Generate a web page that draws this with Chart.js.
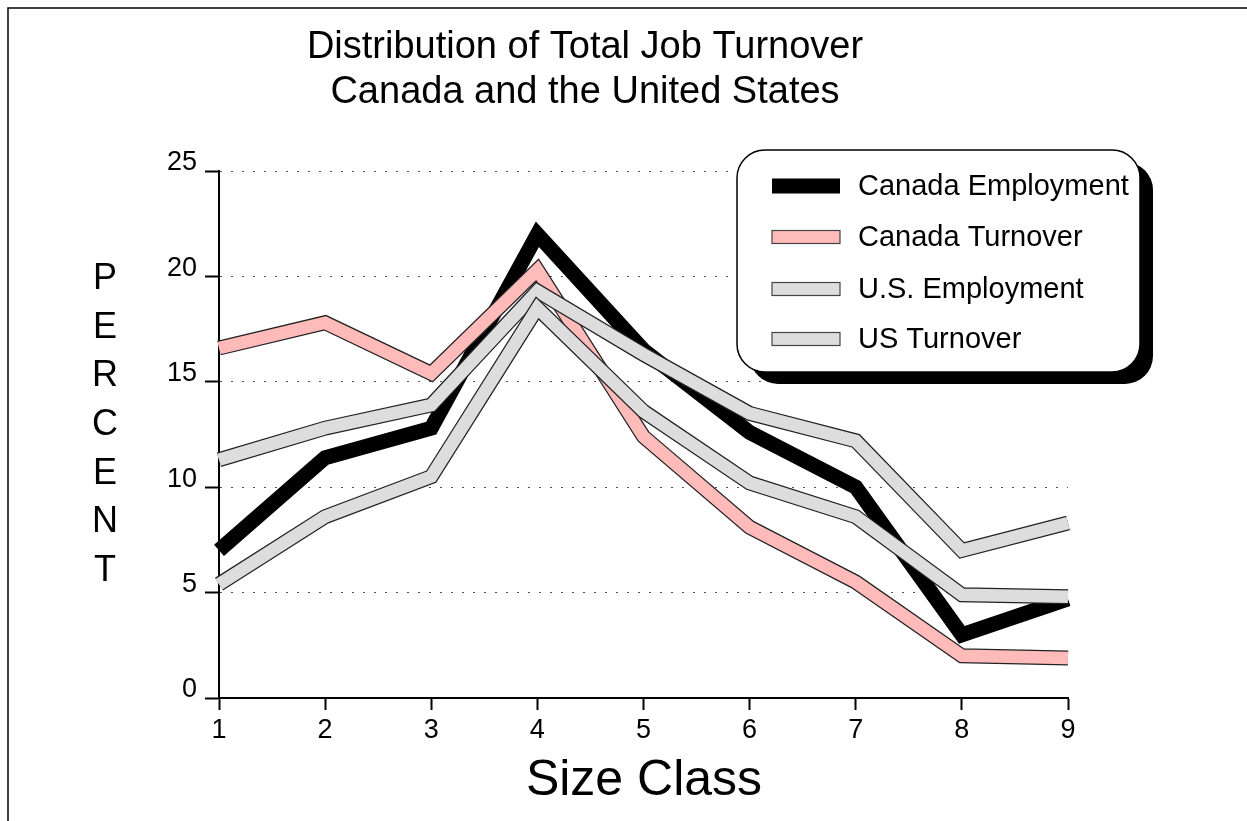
<!DOCTYPE html>
<html>
<head>
<meta charset="utf-8">
<title>Distribution of Total Job Turnover</title>
<script src="https://cdn.jsdelivr.net/npm/chart.js@4.4.1/dist/chart.umd.min.js"></script>
<style>
  html, body { margin: 0; padding: 0; background: #fff; }
  #wrap { position: relative; width: 1247px; height: 821px; }
</style>
</head>
<body>
<div id="wrap"><canvas id="chart" width="1247" height="821"></canvas></div>
<script>
// ---- data ----
const sizeClasses = ["1", "2", "3", "4", "5", "6", "7", "8", "9"];
const canadaEmployment = [7.0, 11.4, 12.8, 22.0, 16.5, 12.6, 10.0, 3.0, 4.7];
const canadaTurnover = [16.6, 17.8, 15.4, 20.3, 12.4, 8.1, 5.5, 2.0, 1.9];
const usEmployment = [11.3, 12.8, 13.9, 19.3, 16.3, 13.5, 12.2, 7.0, 8.3];
const usTurnover = [5.4, 8.6, 10.5, 18.5, 13.6, 10.2, 8.6, 4.9, 4.8];
const yMin = 0;
const yMax = 25;
const yStep = 5;

const titleLines = ["Distribution of Total Job Turnover", "Canada and the United States"];
const xTitle = "Size Class";
const yTitle = "PERCENT";
const legendNames = ["Canada Employment", "Canada Turnover", "U.S. Employment", "US Turnover"];

const FONT = "'Liberation Sans', Arial, Helvetica, sans-serif";
const PINK = "#ffbaba";
const GREY = "#dddddd";
const EDGE = "#222222";

// thick line with a thin dark edge: a dark wide line under a lighter narrower one
function edgedLine(data, fill, order) {
  return [
    {
      data, borderColor: EDGE, borderWidth: 15, order: order + 1,
      pointRadius: 0, tension: 0, borderJoinStyle: "miter", borderCapStyle: "butt"
    },
    {
      data, borderColor: fill, borderWidth: 12.5, order,
      pointRadius: 0, tension: 0, borderJoinStyle: "miter", borderCapStyle: "butt"
    }
  ];
}

const decorations = {
  id: "decorations",
  afterDraw(chart) {
    const ctx = chart.ctx;
    ctx.save();

    // frame
    ctx.strokeStyle = "#000";
    ctx.lineWidth = 1.5;
    ctx.beginPath();
    ctx.moveTo(8, 821);
    ctx.lineTo(8, 8);
    ctx.lineTo(1247, 8);
    ctx.stroke();

    ctx.fillStyle = "#000";
    ctx.textAlign = "center";
    ctx.textBaseline = "middle";

    // title
    ctx.font = "38px " + FONT;
    ctx.fillText(titleLines[0], 585, 48);
    ctx.fillText(titleLines[1], 585, 93);

    // axis titles
    ctx.font = "50px " + FONT;
    ctx.fillText(xTitle, 644, 781);
    ctx.font = "36px " + FONT;
    yTitle.split("").forEach((ch, i) => ctx.fillText(ch, 105, 279 + i * 48.7));

    // legend box with drop shadow
    const bx = 737, by = 150, bw = 403, bh = 222, r = 28;
    ctx.fillStyle = "#000";
    ctx.beginPath();
    ctx.roundRect(bx + 13, by + 12, bw, bh, r);
    ctx.fill();
    ctx.fillStyle = "#fff";
    ctx.beginPath();
    ctx.roundRect(bx, by, bw, bh, r);
    ctx.fill();
    ctx.lineWidth = 1.5;
    ctx.strokeStyle = "#000";
    ctx.stroke();

    const rows = [186, 237, 289, 339];
    const fills = ["#000", PINK, GREY, GREY];
    rows.forEach((y, i) => {
      ctx.fillStyle = fills[i];
      if (i === 0) {
        ctx.fillRect(772, y - 7.5, 68, 15);
      } else {
        ctx.fillRect(772, y - 6.5, 68, 13);
        ctx.lineWidth = 1.2;
        ctx.strokeStyle = "#444";
        ctx.strokeRect(772, y - 6.5, 68, 13);
      }
      ctx.fillStyle = "#000";
      ctx.textAlign = "left";
      ctx.font = "29px " + FONT;
      ctx.fillText(legendNames[i], 858, y + 1);
    });

    ctx.restore();
  }
};

new Chart(document.getElementById("chart"), {
  type: "line",
  data: {
    labels: sizeClasses,
    datasets: [
      {
        data: canadaEmployment, borderColor: "#000", borderWidth: 15, order: 10,
        pointRadius: 0, tension: 0, borderJoinStyle: "miter", borderCapStyle: "butt"
      },
      ...edgedLine(canadaTurnover, PINK, 7),
      ...edgedLine(usEmployment, GREY, 4),
      ...edgedLine(usTurnover, GREY, 1)
    ]
  },
  options: {
    responsive: false,
    animation: false,
    devicePixelRatio: 1,
    layout: { padding: { top: 171, left: 0, right: 179, bottom: 0 } },
    plugins: {
      legend: { display: false },
      title: { display: false },
      tooltip: { enabled: false }
    },
    scales: {
      x: {
        offset: false,
        afterFit: scale => { scale.height = 123; },
        grid: {
          drawOnChartArea: false,
          drawTicks: true,
          tickLength: 12,
          tickColor: "#000",
          tickWidth: 2
        },
        border: { display: true, color: "#000", width: 2 },
        ticks: {
          color: "#000",
          padding: 4,
          maxRotation: 0,
          font: { family: FONT, size: 27 }
        }
      },
      y: {
        min: yMin,
        max: yMax,
        afterFit: scale => { scale.width = 219; },
        grid: {
          color: "#555",
          lineWidth: 1,
          tickLength: 14,
          tickColor: "#000",
          tickWidth: 2
        },
        border: { display: true, color: "#000", width: 2, dash: [2, 9] },
        ticks: {
          stepSize: yStep,
          color: "#000",
          padding: 8,
          labelOffset: -8,
          font: { family: FONT, size: 27 }
        }
      }
    }
  },
  plugins: [decorations]
});
</script>
</body>
</html>
